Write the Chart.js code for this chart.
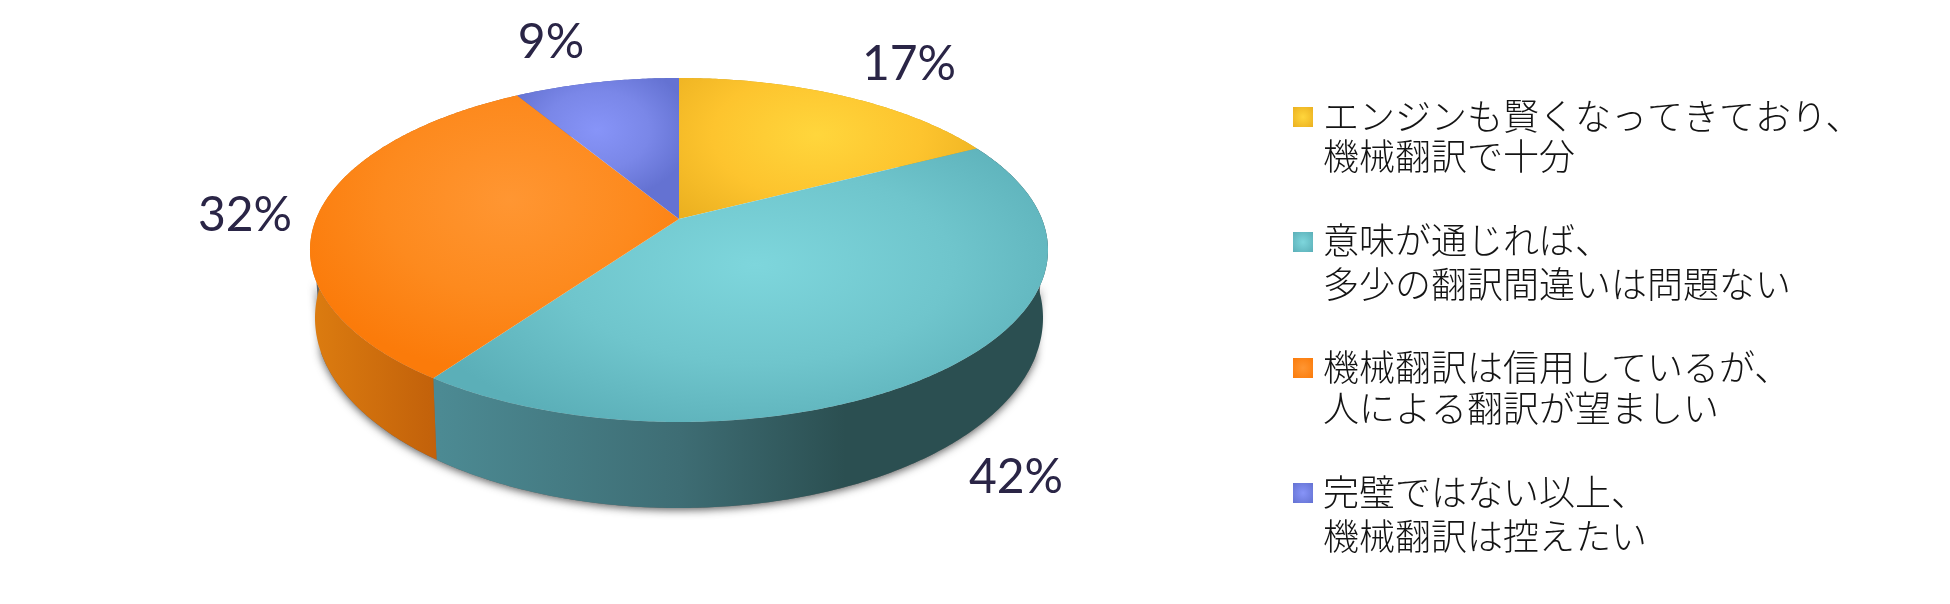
<!DOCTYPE html>
<html lang="ja"><head><meta charset="utf-8">
<style>html,body{margin:0;padding:0;background:#fff}canvas{display:block}</style>
<script src="https://cdn.jsdelivr.net/npm/chart.js@4"></script>
</head><body><canvas id="c" width="1950" height="604"></canvas>
<script>
const categories = [
  ['エンジンも賢くなってきており、','機械翻訳で十分'],
  ['意味が通じれば、','多少の翻訳間違いは問題ない'],
  ['機械翻訳は信用しているが、','人による翻訳が望ましい'],
  ['完璧ではない以上、','機械翻訳は控えたい']
];
const shares = [17.4, 42.4, 31.6, 8.6];
const swatchColors = ['#fdc02c','#70c6cd','#fb8418','#7d8ae8'];

// styling / layout only
const faceGlow = [
  {c:[817,135],r:190,sy:.6,inner:'#ffd63c',mid:'#fdc42e',outer:'#ebb020'},
  {c:[755,265],r:360,sy:.5,inner:'#7ed6dc',mid:'#6fc5cc',outer:'#5bafb8'},
  {c:[510,200],r:230,sy:.75,inner:'#ff9632',mid:'#fd8a1e',outer:'#fb7b0a'},
  {c:[597,130],r:95,sy:.75,inner:'#8794f8',mid:'#7a87e8',outer:'#6472d2'}
];
const wallStops = [
  [[0,'#c9a020'],[1,'#a07c10']],
  [[440,'#4c8a93'],[680,'#3e6d74'],[845,'#2b4f51'],[1050,'#2b4f51']],
  [[312,'#dc7c10'],[435,'#c2610a']],
  [[0,'#5c68b8'],[1,'#4c58a8']]
];
const labelAt = [[909,65],[1016,478],[245,216],[551,43]];
const legendY = [[116,156],[240,284],[367,408],[492,536]];
const swatchY = [117,242,368,493];

const PERSP = 0.18;
function proj(arc, theta, depth){
  const u = Math.sin(theta), v = -Math.cos(theta);
  const d = 1 - PERSP*v, q = Math.sqrt(1-PERSP*PERSP);
  const up = u*q/d, vp = (v-PERSP)/d;
  const R = arc.outerRadius;
  const rx = R*(depth ? 1.456 : 1.476), ry = R*(depth ? 0.76 : 0.688);
  return [arc.x + rx*up, arc.y + (depth ? R*0.272 : 0) + ry*vp];
}
function sweep(ctx, arc, a0, a1, depth, first){
  const n = Math.max(2, Math.ceil(Math.abs(a1-a0)/0.01));
  for(let i=0;i<=n;i++){
    const p = proj(arc, a0+(a1-a0)*i/n, depth);
    if(i===0 && first) ctx.moveTo(p[0],p[1]); else ctx.lineTo(p[0],p[1]);
  }
}
const pie3d = {
  id:'pie3d',
  beforeDatasetDraw(chart){
    const ctx = chart.ctx, arcs = chart.getDatasetMeta(0).data;
    const ang = a => ({s:a.startAngle+Math.PI/2, e:a.endAngle+Math.PI/2});
    const a0 = arcs[0];
    ctx.save();
    // soft shadow under the visible wall band
    ctx.shadowColor='rgba(40,40,40,.75)'; ctx.shadowBlur=9; ctx.shadowOffsetY=2;
    ctx.fillStyle='#666';
    ctx.beginPath();
    sweep(ctx,a0,1.95,4.35,1,true); sweep(ctx,a0,4.35,1.95,0,false);
    ctx.closePath(); ctx.fill();
    ctx.restore();
    // walls, drawn from the library's arc angles
    arcs.forEach((arc,i)=>{
      const {s,e} = ang(arc);
      const st = wallStops[i];
      const x0 = st[0][0], x1 = st[st.length-1][0];
      const g = ctx.createLinearGradient(x0,0,x1,0);
      st.forEach(([x,c])=>g.addColorStop((x-x0)/(x1-x0),c));
      ctx.fillStyle = x1>1 ? g : st[0][1];
      ctx.beginPath();
      sweep(ctx,arc,s,e,1,true); sweep(ctx,arc,e,s,0,false);
      ctx.closePath(); ctx.fill();
    });
    // top faces
    arcs.forEach((arc,i)=>{
      const {s,e} = ang(arc);
      const apex = [arc.x, arc.y + arc.outerRadius*0.688*(-PERSP)];
      const f = faceGlow[i];
      ctx.save();
      ctx.beginPath();
      ctx.moveTo(apex[0],apex[1]);
      sweep(ctx,arc,s,e,0,false);
      ctx.closePath();
      ctx.translate(f.c[0],f.c[1]); ctx.scale(1,f.sy);
      const g = ctx.createRadialGradient(0,0,0,0,0,f.r);
      g.addColorStop(0,f.inner); g.addColorStop(.55,f.mid); g.addColorStop(1,f.outer);
      ctx.fillStyle=g; ctx.fill();
      ctx.restore();
    });
    return false;
  },
  afterDraw(chart){
    const ctx = chart.ctx;
    ctx.save();
    ctx.textAlign='center'; ctx.textBaseline='middle';
    ctx.font='48px Lato'; ctx.fillStyle='#2a2546';
    shares.forEach((v,i)=>ctx.fillText(Math.round(v)+'%',labelAt[i][0],labelAt[i][1]));
    ctx.textAlign='left';
    ctx.font='300 36px "Noto Sans CJK JP"';
    categories.forEach((lines,i)=>{
      const y = swatchY[i], f = faceGlow[i];
      const g = ctx.createRadialGradient(1303,y,0,1303,y,14);
      g.addColorStop(0,f.inner); g.addColorStop(1,f.outer);
      ctx.fillStyle=g; ctx.fillRect(1293,y-10,20,20);
      ctx.fillStyle='#141414';
      lines.forEach((t,j)=>ctx.fillText(t,1323,legendY[i][j]));
    });
    ctx.restore();
  }
};
new Chart(document.getElementById('c'),{
  type:'pie',
  data:{labels:categories.map(l=>l.join('')),datasets:[{data:shares,backgroundColor:swatchColors,borderWidth:0}]},
  options:{responsive:false,animation:false,
    layout:{padding:{right:592,bottom:104}},
    plugins:{legend:{display:false},tooltip:{enabled:false}}},
  plugins:[pie3d]
});
</script></body></html>
